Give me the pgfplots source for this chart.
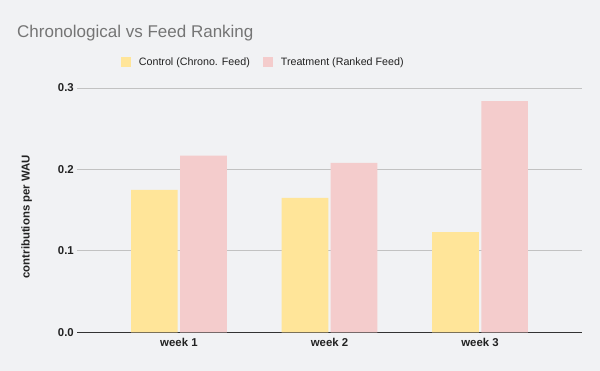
\documentclass[border=0pt]{standalone}
\usepackage{fontspec}
\setmainfont{Liberation Sans}
\usepackage{pgfplots}
\pgfplotsset{compat=1.18}
\definecolor{bg}{HTML}{F1F2F4}
\definecolor{ctrl}{HTML}{FFE599}
\definecolor{treat}{HTML}{F4CCCC}
\definecolor{titlegray}{HTML}{757575}
\definecolor{txt}{HTML}{222222}
\definecolor{gridc}{HTML}{C2C2C2}
\definecolor{zeroc}{HTML}{333333}
\begin{document}
\begin{tikzpicture}
\fill[bg] (0bp,0bp) rectangle (600bp,371bp);
\useasboundingbox (0bp,0bp) rectangle (600bp,371bp);
\node[anchor=base west, font=\fontsize{17bp}{20bp}\selectfont, text=titlegray, inner sep=0pt] at (17bp,333bp) {Chronological vs Feed Ranking};
\begin{axis}[
  at={(77.3bp,38.7bp)}, anchor=south west,
  scale only axis, width=504.4bp, height=244.3bp,
  xmin=-0.675, xmax=2.675, ymin=0, ymax=0.3,
  xtick={0,1,2}, xticklabels={week 1,week 2,week 3},
  ytick={0,0.1,0.2,0.3},
  /pgf/number format/.cd, fixed, fixed zerofill, precision=1, assume math mode=true, /pgfplots/.cd,
  major tick length=0pt,
  axis x line*=bottom, axis y line*=left,
  x axis line style={draw=zeroc, line width=0.9bp},
  y axis line style={draw=none},
  ymajorgrids, grid style={draw=gridc, line width=0.8bp},
  tick label style={font=\bfseries\fontsize{11.4bp}{13bp}\selectfont, text=txt},
  xticklabel style={yshift=-2bp},
  ylabel={contributions per WAU},
  ylabel style={at={(axis description cs:-0.1003,0.473)}, anchor=center, rotate=0, font=\bfseries\fontsize{11.4bp}{13bp}\selectfont, text=txt},
  legend columns=2,
  legend style={at={(axis description cs:0.086,1.106)}, anchor=west, draw=none, fill=none, inner sep=0pt, font=\fontsize{10.7bp}{12bp}\selectfont, text=txt,
    nodes={inner xsep=0pt},
    /tikz/every odd column/.append style={column sep=8bp},
    /tikz/every even column/.append style={column sep=13bp}},
  sq/.style={legend image code/.code={\draw[##1,draw=none] (0bp,-5bp) rectangle (10bp,5bp);}},
]
\addplot[ybar, bar width=0.31, bar shift=-0.163, fill=ctrl, draw=none, sq] coordinates {(0,0.175) (1,0.165) (2,0.123)};
\addlegendentry{Control (Chrono. Feed)}
\addplot[ybar, bar width=0.31, bar shift=0.163, fill=treat, draw=none, sq] coordinates {(0,0.217) (1,0.208) (2,0.284)};
\addlegendentry{Treatment (Ranked Feed)}
\end{axis}
\end{tikzpicture}
\end{document}
